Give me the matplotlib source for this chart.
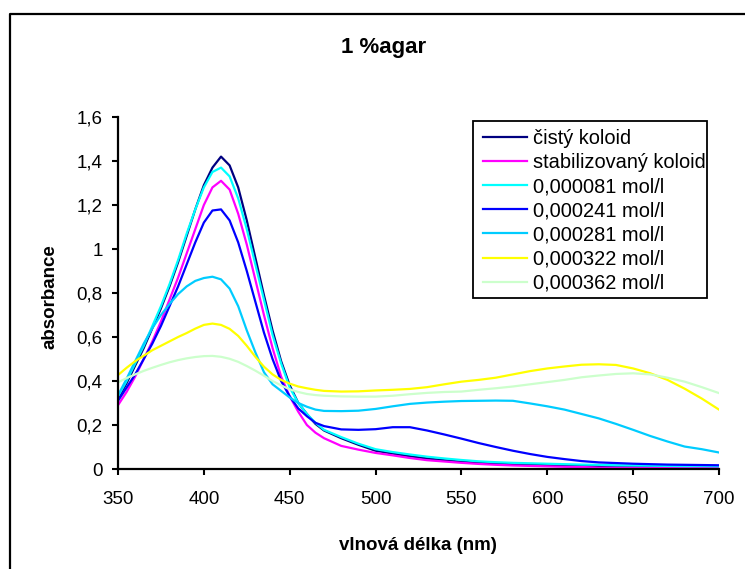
import matplotlib
matplotlib.use("Agg")
import matplotlib.pyplot as plt
from matplotlib.lines import Line2D
from matplotlib.patches import Rectangle
from matplotlib.ticker import FuncFormatter

# Absorption spectra of silver colloid in 1 % agar
wavelength = [350, 355, 360, 365, 370, 375, 380, 385, 390, 395, 400, 405, 410, 415, 420, 425,
              430, 435, 440, 445, 450, 455, 460, 465, 470, 480, 490, 500, 510, 520, 530, 540,
              550, 560, 570, 580, 590, 600, 610, 620, 630, 640, 650, 660, 670, 680, 690, 700]

cisty_koloid = [0.32, 0.39, 0.47, 0.55, 0.64, 0.73, 0.83, 0.94, 1.06, 1.18, 1.29, 1.37, 1.42,
                1.38, 1.28, 1.13, 0.96, 0.79, 0.63, 0.49, 0.38, 0.30, 0.25, 0.205, 0.175,
                0.14, 0.11, 0.083, 0.07, 0.058, 0.048, 0.04, 0.033, 0.028, 0.024, 0.021, 0.019,
                0.017, 0.016, 0.015, 0.014, 0.013, 0.013, 0.012, 0.012, 0.011, 0.011, 0.01]
stabilizovany_koloid = [0.29, 0.35, 0.42, 0.50, 0.58, 0.67, 0.77, 0.87, 0.98, 1.09, 1.20, 1.28,
                        1.31, 1.27, 1.16, 1.02, 0.86, 0.70, 0.55, 0.42, 0.33, 0.26, 0.20, 0.165,
                        0.14, 0.105, 0.088, 0.073, 0.062, 0.05, 0.04, 0.034, 0.028, 0.023, 0.019,
                        0.016, 0.014, 0.012, 0.01, 0.009, 0.006, 0.006, 0.006, 0.005, 0.005,
                        0.005, 0.005, 0.005]
c_000081 = [0.33, 0.40, 0.48, 0.56, 0.65, 0.74, 0.84, 0.95, 1.07, 1.18, 1.28, 1.35, 1.37, 1.33,
            1.23, 1.09, 0.93, 0.77, 0.61, 0.48, 0.37, 0.30, 0.25, 0.21, 0.178, 0.145, 0.115,
            0.09, 0.077, 0.066, 0.056, 0.048, 0.041, 0.035, 0.031, 0.028, 0.026, 0.024, 0.022,
            0.02, 0.019, 0.017, 0.016, 0.015, 0.014, 0.013, 0.013, 0.012]
c_000241 = [0.31, 0.37, 0.43, 0.50, 0.57, 0.65, 0.74, 0.83, 0.93, 1.03, 1.12, 1.175, 1.18, 1.13,
            1.03, 0.90, 0.76, 0.62, 0.50, 0.40, 0.33, 0.275, 0.24, 0.21, 0.195, 0.18, 0.178,
            0.181, 0.19, 0.19, 0.175, 0.157, 0.138, 0.118, 0.10, 0.083, 0.068, 0.055, 0.045,
            0.036, 0.03, 0.027, 0.024, 0.022, 0.02, 0.019, 0.018, 0.017]
c_000281 = [0.335, 0.41, 0.49, 0.57, 0.64, 0.70, 0.75, 0.795, 0.83, 0.855, 0.868, 0.874, 0.862,
            0.82, 0.74, 0.63, 0.53, 0.44, 0.385, 0.355, 0.325, 0.30, 0.283, 0.27, 0.264, 0.263,
            0.265, 0.273, 0.285, 0.296, 0.302, 0.306, 0.309, 0.31, 0.311, 0.31, 0.298, 0.285,
            0.27, 0.25, 0.23, 0.205, 0.178, 0.15, 0.125, 0.102, 0.09, 0.075]
c_000322 = [0.427, 0.46, 0.49, 0.515, 0.54, 0.56, 0.58, 0.60, 0.618, 0.638, 0.655, 0.661, 0.655,
            0.637, 0.605, 0.56, 0.51, 0.465, 0.43, 0.405, 0.388, 0.375, 0.367, 0.36, 0.355,
            0.352, 0.353, 0.357, 0.36, 0.364, 0.372, 0.385, 0.397, 0.405, 0.415, 0.43, 0.445,
            0.457, 0.466, 0.474, 0.476, 0.473, 0.457, 0.435, 0.405, 0.365, 0.32, 0.27]
c_000362 = [0.394, 0.413, 0.43, 0.446, 0.46, 0.473, 0.485, 0.495, 0.503, 0.509, 0.513, 0.514,
            0.51, 0.501, 0.487, 0.468, 0.447, 0.424, 0.40, 0.38, 0.362, 0.35, 0.341, 0.336,
            0.333, 0.33, 0.329, 0.329, 0.333, 0.34, 0.346, 0.35, 0.352, 0.36, 0.367, 0.375,
            0.385, 0.395, 0.405, 0.417, 0.425, 0.432, 0.435, 0.43, 0.415, 0.397, 0.372, 0.345]

series = [
    ("čistý koloid", cisty_koloid, "#000080"),
    ("stabilizovaný koloid", stabilizovany_koloid, "#FF00FF"),
    ("0,000081 mol/l", c_000081, "#00FFFF"),
    ("0,000241 mol/l", c_000241, "#0000FF"),
    ("0,000281 mol/l", c_000281, "#00CCFF"),
    ("0,000322 mol/l", c_000322, "#FFFF00"),
    ("0,000362 mol/l", c_000362, "#CCFFCC"),
]

x_ticks = [350, 400, 450, 500, 550, 600, 650, 700]
y_ticks = [0, 0.2, 0.4, 0.6, 0.8, 1.0, 1.2, 1.4, 1.6]

plt.rcParams["font.family"] = ["Liberation Sans", "DejaVu Sans"]

W, H = 745, 569
fig = plt.figure(figsize=(W / 100, H / 100), dpi=100)
fig.patch.set_facecolor("white")

ax = fig.add_axes([118 / W, 1 - 469 / H, (719 - 118) / W, (469 - 117) / H])
for name, values, color in series:
    ax.plot(wavelength, values, color=color, lw=1.6, label=name)

ax.set_xlim(350, 700)
ax.set_ylim(0, 1.6)
ax.set_xticks(x_ticks)
ax.set_yticks(y_ticks)
ax.yaxis.set_major_formatter(FuncFormatter(lambda v, p: f"{v:g}".replace(".", ",")))
ax.tick_params(axis="both", direction="out", length=4, width=1.5, labelsize=13.5)
ax.tick_params(axis="x", pad=12)
ax.tick_params(axis="y", pad=7)
ax.spines["top"].set_visible(False)
ax.spines["right"].set_visible(False)
ax.spines["left"].set_linewidth(1.6)
ax.spines["bottom"].set_linewidth(1.6)

fig.text(384 / W, 1 - 47 / H, "1 %agar", ha="center", va="center",
         fontsize=16, fontweight="bold")
fig.text(50 / W, 1 - 297 / H, "absorbance", ha="center", va="center",
         rotation=90, fontsize=13.5, fontweight="bold")
fig.text(418 / W, 1 - 545 / H, "vlnová délka (nm)", ha="center", va="center",
         fontsize=13.5, fontweight="bold")

ax.legend(loc="upper left", bbox_to_anchor=(483 / W, 1 - 129 / H),
          bbox_transform=fig.transFigure, borderaxespad=0, borderpad=0, fontsize=14.4,
          frameon=False, handlelength=2.2, handletextpad=0.3, labelspacing=0.255)
fig.add_artist(Rectangle((473 / W, 1 - 298 / H), (707 - 473) / W, (298 - 121) / H,
                         transform=fig.transFigure, fill=False, edgecolor="black", lw=1.3))

# chart area border (top and left edges)
fig.add_artist(Line2D([10 / W, 10 / W, 1.0], [0.0, 1 - 14 / H, 1 - 14 / H],
                      transform=fig.transFigure, color="black", lw=1.6))

fig.savefig("out.png", dpi=100)
